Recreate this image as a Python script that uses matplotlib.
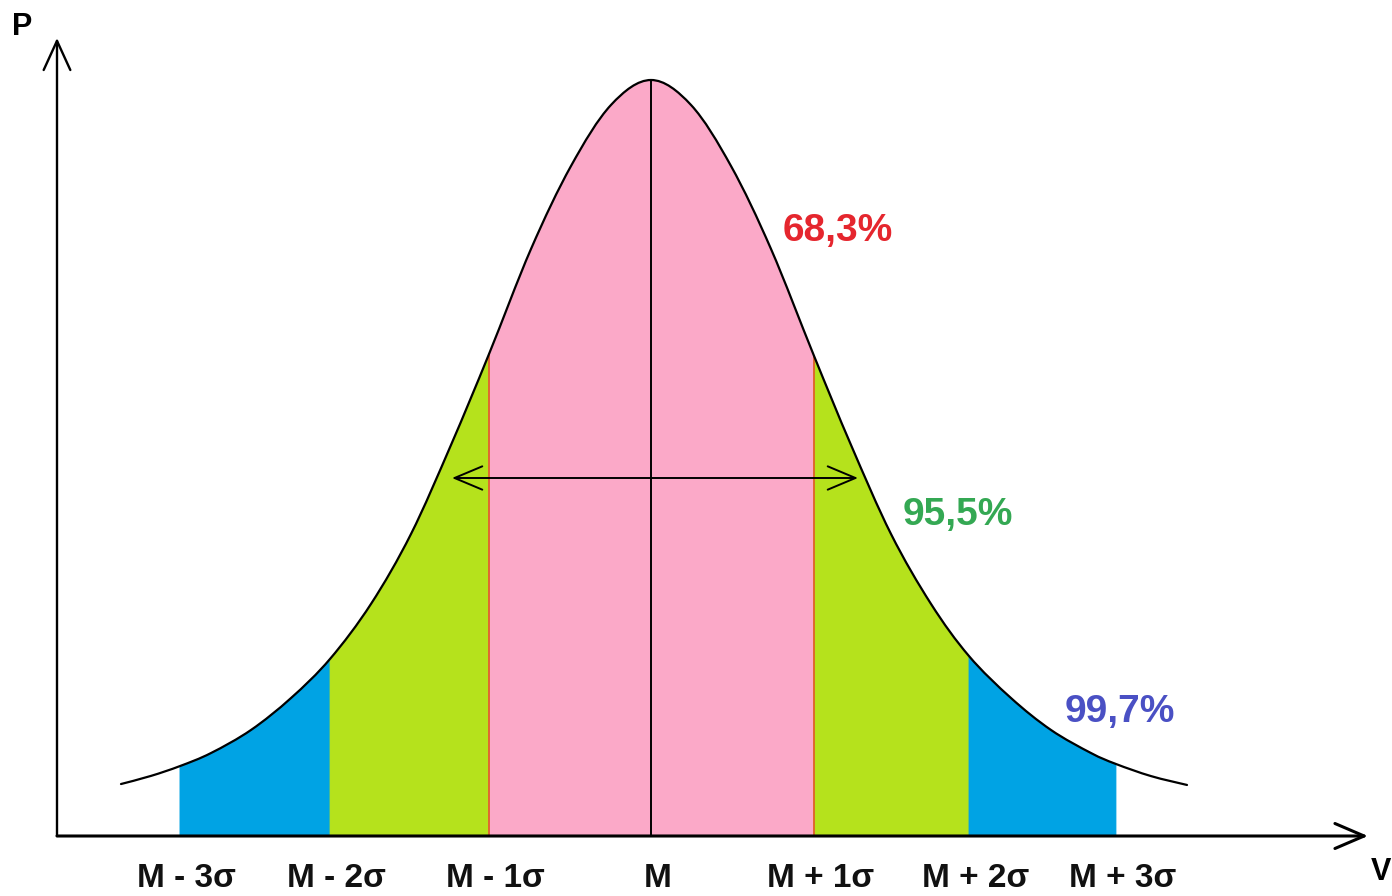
import matplotlib
matplotlib.use("Agg")
import matplotlib.pyplot as plt
from matplotlib.path import Path
from matplotlib.patches import PathPatch
import numpy as np

# ---- data (x in sigma units from the mean, P = density) ----
curve_x = [-3.3125, -3.125, -2.944, -2.75, -2.5, -2.25, -2.006, -1.75, -1.5, -1.25,
           -1.0125, -0.75, -0.5, -0.25, 0.0, 0.25, 0.5, 0.75, 1.019, 1.25,
           1.5, 1.75, 1.9875, 2.25, 2.5, 2.75, 2.906, 3.125, 3.35]
curve_p = [0.0275, 0.0318, 0.0370, 0.0439, 0.0561, 0.0730, 0.0937, 0.1228, 0.1598, 0.2069,
           0.2550, 0.3106, 0.3545, 0.3868, 0.4000, 0.3868, 0.3545, 0.3106, 0.2540, 0.2069,
           0.1598, 0.1228, 0.0952, 0.0730, 0.0561, 0.0439, 0.0381, 0.0317, 0.0270]

# interval bounds (mean +/- k sigma, as drawn)
bounds = [-2.944, -2.006, -1.0125, 0.0, 1.019, 1.9875, 2.906]
tick_labels = ["M - 3σ", "M - 2σ", "M - 1σ", "M", "M + 1σ", "M + 2σ", "M + 3σ"]

pct_labels = ["68,3%", "95,5%", "99,7%"]
pct_colors = ["#e5262e", "#34a853", "#4a50c4"]

band_colors = ["#00a3e4", "#b5e21c", "#fba9c8", "#fba9c8", "#b5e21c", "#00a3e4"]

x = np.array(curve_x)
p = np.array(curve_p)
pts = np.column_stack([x, p])
n = len(pts)


def bezier_segments(i0, i1):
    """Smooth Bezier pieces through the read points i0..i1."""
    verts, codes = [], []
    for i in range(i0, i1):
        pm = pts[max(i - 1, 0)]
        p0 = pts[i]
        p1 = pts[i + 1]
        p2 = pts[min(i + 2, n - 1)]
        c1 = p0 + (p1 - pm) / 6.0
        c2 = p1 - (p2 - p0) / 6.0
        verts += [tuple(c1), tuple(c2), tuple(p1)]
        codes += [Path.CURVE4] * 3
    return verts, codes


fig = plt.figure(figsize=(13.92, 8.96), dpi=100)
ax = fig.add_axes([0, 0, 1, 1])
ax.set_xlim((0 - 651) / 160, (1392 - 651) / 160)
ax.set_ylim(-60 * 0.4 / 756, 836 * 0.4 / 756)
ax.axis("off")

idx = [int(np.argmin(np.abs(x - b))) for b in bounds]

# filled bands
for j in range(len(bounds) - 1):
    a, b = idx[j], idx[j + 1]
    v, c = bezier_segments(a, b)
    verts = [(x[a], 0), (x[a], p[a])] + v + [(x[b], 0), (x[a], 0)]
    codes = [Path.MOVETO, Path.LINETO] + c + [Path.LINETO, Path.CLOSEPOLY]
    ax.add_patch(PathPatch(Path(verts, codes), facecolor=band_colors[j],
                           edgecolor=band_colors[j], lw=0.6, zorder=2))

# boundary lines at +/-1 sigma
for k in (2, 4):
    ax.plot([x[idx[k]], x[idx[k]]], [0, p[idx[k]]], color="#e0602a", lw=1.3, zorder=5)
# centre line
ax.plot([0, 0], [0, p.max()], color="black", lw=1.4, zorder=6)

# curve
v, c = bezier_segments(0, n - 1)
curve_path = Path([tuple(pts[0])] + v, [Path.MOVETO] + c)
ax.add_patch(PathPatch(curve_path, facecolor="none", edgecolor="black", lw=1.6,
                       capstyle="round", zorder=7))

# axes with open arrowheads
x_axis_left = (57 - 651) / 160
ax.annotate("", xy=(x_axis_left, 798 * 0.4 / 756), xytext=(x_axis_left, 0),
            arrowprops=dict(arrowstyle="->,head_length=1.05,head_width=0.48",
                            color="black", lw=1.7, mutation_scale=20, shrinkA=0, shrinkB=0),
            zorder=8)
ax.annotate("", xy=((1368 - 651) / 160, 0), xytext=(x_axis_left, 0),
            arrowprops=dict(arrowstyle="->,head_length=1.05,head_width=0.45",
                            color="black", lw=2.2, mutation_scale=20, shrinkA=0, shrinkB=0),
            zorder=8)

# double arrow across the 1-sigma range
y_arr = (836 - 478) * 0.4 / 756
ax.annotate("", xy=((452 - 651) / 160, y_arr), xytext=((858 - 651) / 160, y_arr),
            arrowprops=dict(arrowstyle="<->,head_length=1.0,head_width=0.42",
                            color="black", lw=1.4, mutation_scale=20, shrinkA=0, shrinkB=0),
            zorder=8)

font = ["Liberation Sans", "DejaVu Sans"]
y_lab = (836 - 878) * 0.4 / 756
for b, lab in zip(bounds, tick_labels):
    ax.text(b + 0.04, y_lab, lab, ha="center", va="center", fontsize=24,
            fontweight="bold", family=font, color="#111111")

ax.text((22 - 651) / 160, (836 - 27) * 0.4 / 756, "P", ha="center", va="center",
        fontsize=22, fontweight="bold", family=font)
ax.text((1381 - 651) / 160, (836 - 872) * 0.4 / 756, "V", ha="center", va="center",
        fontsize=22, fontweight="bold", family=font)

pct_pos = [((838 - 651) / 160, (836 - 231) * 0.4 / 756),
           ((958 - 651) / 160, (836 - 515) * 0.4 / 756),
           ((1120 - 651) / 160, (836 - 712) * 0.4 / 756)]
for (tx, ty), lab, c in zip(pct_pos, pct_labels, pct_colors):
    ax.text(tx, ty, lab, ha="center", va="center", fontsize=28, fontweight="bold",
            family=font, color=c)

fig.savefig("out.png", dpi=100, facecolor="white")
